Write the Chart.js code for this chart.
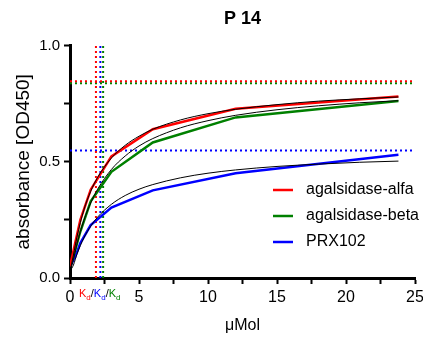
<!DOCTYPE html>
<html>
<head>
<meta charset="utf-8">
<script src="https://cdn.jsdelivr.net/npm/chart.js@4.4.0/dist/chart.umd.min.js"></script>
<style>
  html, body { margin: 0; padding: 0; background: #fff; }
</style>
</head>
<body>
<canvas id="p14" width="423" height="337"></canvas>
<script>
// measured points (µMol vs absorbance)
var conc = [0, 0.375, 0.75, 1.5, 3, 6, 12, 23.8];
var alfa = [0.05, 0.15, 0.25, 0.38, 0.523, 0.64, 0.728, 0.781];
var beta = [0.05, 0.12, 0.2, 0.33, 0.457, 0.583, 0.691, 0.762];
var prx = [0.05, 0.09, 0.15, 0.228, 0.303, 0.377, 0.451, 0.53];

// black fit curves
var fitX = [0, 0.25, 0.5, 1, 1.5, 2, 3, 4, 5, 6, 8, 10, 12, 15, 18, 21, 23.8];
var fitAlfa = [0.03, 0.099, 0.176, 0.292, 0.373, 0.433, 0.516, 0.571, 0.61, 0.64, 0.68, 0.707, 0.726, 0.746, 0.761, 0.771, 0.779];
var fitBeta = [0.03, 0.079, 0.145, 0.247, 0.323, 0.382, 0.467, 0.525, 0.568, 0.6, 0.646, 0.677, 0.7, 0.724, 0.741, 0.754, 0.763];
var fitPrx = [0.03, 0.056, 0.102, 0.172, 0.223, 0.262, 0.317, 0.355, 0.382, 0.402, 0.431, 0.451, 0.465, 0.48, 0.49, 0.498, 0.503];

// Kd and Bmax guide lines
var names = ['agalsidase-alfa', 'agalsidase-beta', 'PRX102'];
var colors = ['#ff0000', '#008000', '#0000ff'];
var kd = [1.88, 2.4, 2.2];
var bmax = [0.847, 0.838, 0.549];

var yTicks = [0, 0.5, 1.0];
var xTicks = [0, 5, 10, 15, 20, 25];

function pts(xs, ys) {
    return xs.map(function (x, i) { return { x: x, y: ys[i] }; });
}

var datasets = [];
// fits on top
[fitAlfa, fitBeta, fitPrx].forEach(function (f) {
    datasets.push({
        data: pts(fitX, f),
        borderColor: '#000',
        borderWidth: 1,
        pointRadius: 0,
        cubicInterpolationMode: 'monotone'
    });
});
[alfa, beta, prx].forEach(function (d, i) {
    datasets.push({
        label: names[i],
        data: pts(conc, d),
        borderColor: colors[i],
        borderWidth: 2.5,
        pointRadius: 0,
        tension: 0
    });
});
// dotted Kd / Bmax guides
kd.forEach(function (k, i) {
    datasets.push({
        data: [{ x: k, y: 0 }, { x: k, y: 1 }],
        borderColor: colors[i],
        borderWidth: 2,
        borderDash: [2, 3],
        pointRadius: 0
    });
    datasets.push({
        data: [{ x: 0, y: bmax[i] }, { x: 25, y: bmax[i] }],
        borderColor: colors[i],
        borderWidth: 2,
        borderDash: [2, 3],
        pointRadius: 0
    });
});

// legend inside the plot + Kd labels under the axis
var extras = {
    id: 'extras',
    afterDraw: function (chart) {
        var c = chart.ctx;
        c.save();
        c.font = '16px "Liberation Sans", Arial, sans-serif';
        c.textBaseline = 'middle';
        for (var i = 0; i < names.length; i++) {
            var y = 190 + 26 * i;
            c.strokeStyle = colors[i];
            c.lineWidth = 2.5;
            c.beginPath();
            c.moveTo(273, y);
            c.lineTo(293, y);
            c.stroke();
            c.fillStyle = '#000';
            c.fillText(names[i], 306, y);
        }
        // K_d / K_d / K_d
        var order = [0, 2, 1]; // red, blue, green
        var x = 79;
        c.textBaseline = 'alphabetic';
        order.forEach(function (idx, n) {
            c.fillStyle = colors[idx];
            c.font = '11px "Liberation Sans", Arial, sans-serif';
            c.fillText('K', x, 297);
            x += c.measureText('K').width;
            c.font = '8px "Liberation Sans", Arial, sans-serif';
            c.fillText('d', x, 300);
            x += c.measureText('d').width;
            if (n < 2) {
                c.fillStyle = '#000';
                c.font = '11px "Liberation Sans", Arial, sans-serif';
                c.fillText('/', x, 297);
                x += c.measureText('/').width;
            }
        });
        c.restore();
    }
};

var ctx = document.getElementById('p14').getContext('2d');
var chart = new Chart(ctx, {
    type: 'line',
    data: { datasets: datasets },
    options: {
        responsive: false,
        animation: false,
        layout: { padding: { left: 0, right: 8, top: 0, bottom: 0 } },
        plugins: {
            legend: { display: false },
            tooltip: { enabled: false },
            title: {
                display: true,
                text: 'P 14',
                fullSize: false,
                color: '#000',
                font: { family: '"Liberation Sans", Arial, sans-serif', size: 18, weight: 'bold' },
                padding: { top: 8, bottom: 16 }
            }
        },
        scales: {
            x: {
                type: 'linear',
                min: 0,
                max: 25,
                border: { display: true, color: '#000', width: 3 },
                grid: { drawOnChartArea: false, drawTicks: true, tickLength: 6, tickWidth: 2, tickColor: '#000' },
                ticks: {
                    stepSize: 2.5,
                    autoSkip: false,
                    maxRotation: 0,
                    padding: 4,
                    color: '#000',
                    font: { family: '"Liberation Sans", Arial, sans-serif', size: 16 },
                    callback: function (v) { return xTicks.indexOf(v) >= 0 ? String(v) : ''; }
                },
                title: {
                    display: true,
                    text: 'μMol',
                    color: '#000',
                    font: { family: '"Liberation Sans", Arial, sans-serif', size: 16 },
                    padding: { top: 0, bottom: 2 }
                },
                afterFit: function (s) {
                    s.height = 59;
                    s.paddingLeft = 0;
                    s.paddingRight = 0;
                }
            },
            y: {
                min: 0,
                max: 1,
                border: { display: true, color: '#000', width: 3 },
                grid: { drawOnChartArea: false, drawTicks: true, tickLength: 6, tickWidth: 2, tickColor: '#000' },
                ticks: {
                    stepSize: 0.25,
                    padding: 4,
                    color: '#000',
                    font: { family: '"Liberation Sans", Arial, sans-serif', size: 15 },
                    callback: function (v) { return yTicks.indexOf(v) >= 0 ? v.toFixed(1) : ''; }
                },
                title: {
                    display: true,
                    text: 'absorbance [OD450]',
                    color: '#000',
                    font: { family: '"Liberation Sans", Arial, sans-serif', size: 19 },
                    padding: { top: 12, bottom: 0 }
                },
                afterFit: function (s) {
                    s.width = 70;
                    s.paddingTop = 0;
                    s.paddingBottom = 0;
                }
            }
        }
    },
    plugins: [extras]
});
</script>
</body>
</html>
